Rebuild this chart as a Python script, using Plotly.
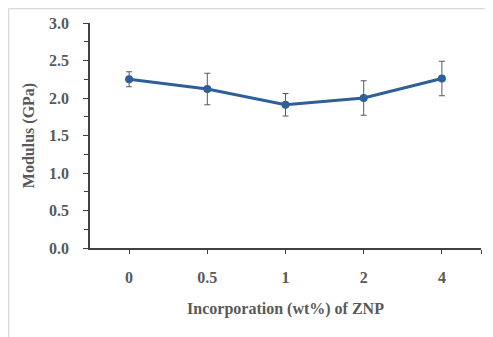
import plotly.graph_objects as go

categories = ["0", "0.5", "1", "2", "4"]
modulus = [2.25, 2.12, 1.91, 2.00, 2.26]
err = [0.10, 0.21, 0.15, 0.23, 0.23]
y_ticks = [0.0, 0.5, 1.0, 1.5, 2.0, 2.5, 3.0]

xpos = list(range(len(categories)))
font = dict(family="Liberation Serif", size=16, color="#595959")
title_font = dict(family="Liberation Serif", size=16, color="#595959")

fig = go.Figure()
fig.add_trace(go.Scatter(
    x=xpos, y=modulus, mode="lines+markers",
    line=dict(color="#2F5F98", width=3),
    marker=dict(color="#2F5F98", size=8),
    error_y=dict(type="data", array=err, visible=True,
                 color="#595959", thickness=1, width=3),
    showlegend=False,
))

fig.update_layout(
    width=493, height=337,
    margin=dict(l=82, r=20, t=15, b=97),
    paper_bgcolor="white", plot_bgcolor="white",
    font=font,
    xaxis=dict(
        range=[-0.5, len(categories) - 0.5],
        tickvals=xpos + [len(categories) - 0.5],
        ticktext=["<b>%s</b>" % c for c in categories] + [""],
        ticks="outside", ticklen=4, tickcolor="#404040", tickwidth=1,
        showline=True, linecolor="#404040", linewidth=1.5,
        showgrid=False, zeroline=False, automargin=False,
        ticklabelstandoff=10,
        title=dict(text="<b>Incorporation (wt%) of ZNP</b>", standoff=18,
                   font=title_font),
    ),
    yaxis=dict(
        range=[0, 3.0],
        tickvals=y_ticks,
        ticktext=["<b>%.1f</b>" % v for v in y_ticks],
        ticks="outside", ticklen=5, tickcolor="#404040", tickwidth=1,
        minor=dict(dtick=0.25, ticks="outside", ticklen=4, tickcolor="#404040", showgrid=False),
        showline=True, linecolor="#404040", linewidth=1.5,
        showgrid=False, zeroline=False, automargin=False,
        ticklabelstandoff=11,
        title=dict(text="<b>Modulus (GPa)</b>", standoff=10,
                   font=title_font),
    ),
)

# light outer frame (top and left edges)
fig.add_shape(type="line", xref="paper", yref="paper",
              x0=-0.2084, x1=1.1, y0=1.0644, y1=1.0644,
              line=dict(color="#d9d9d9", width=1.5))
fig.add_shape(type="line", xref="paper", yref="paper",
              x0=-0.2084, x1=-0.2084, y0=1.0644, y1=-0.45,
              line=dict(color="#d9d9d9", width=1.5))

fig.write_html("out.html")
